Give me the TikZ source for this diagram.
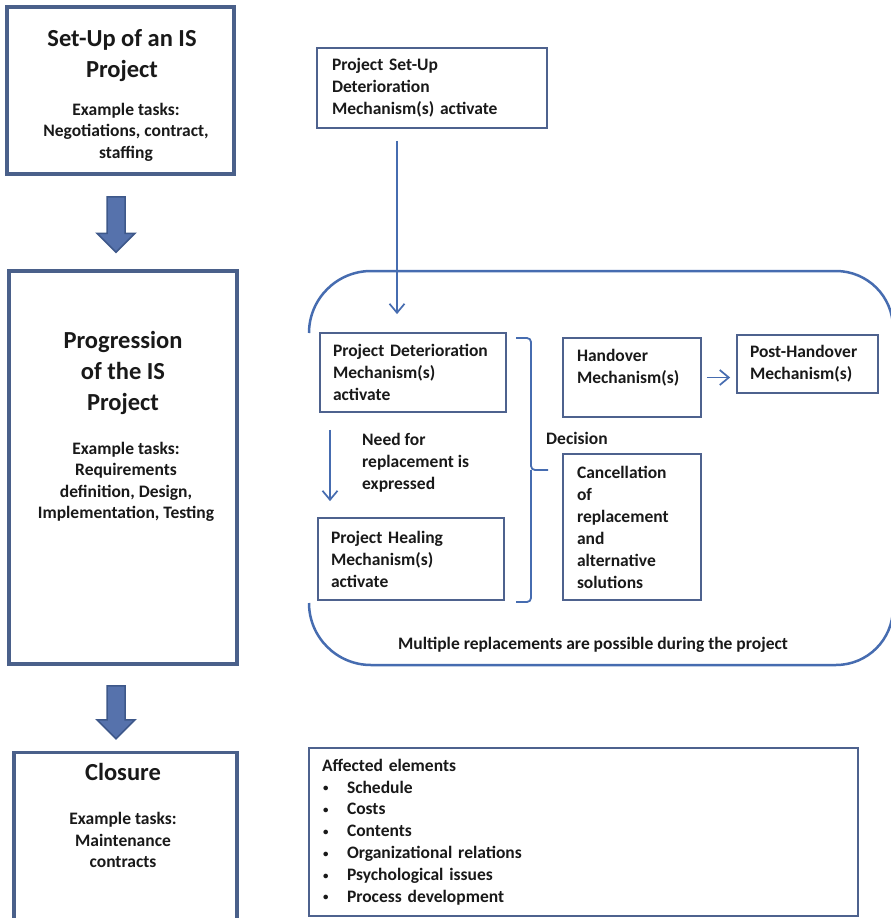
\documentclass[tikz,border=0pt]{standalone}
\usepackage{fontspec}
\setmainfont{Carlito}
\usetikzlibrary{arrows.meta,calc}

\definecolor{frameblue}{RGB}{74,96,138}
\definecolor{lineblue}{RGB}{70,108,176}
\definecolor{boxline}{RGB}{78,98,142}
\definecolor{fatfill}{RGB}{86,114,172}
\definecolor{fatdraw}{RGB}{62,88,138}
\definecolor{ink}{RGB}{25,25,25}

% block arrow from top centre #1 to tip #2
\newcommand\blockarrow[2]{%
  \draw[fatarrow] ($(#1)+(-9,0)$) -- ($(#1)+(9,0)$) -- ($(#2)+(9,-19)$)
    -- ($(#2)+(19,-19)$) -- (#2) -- ($(#2)+(-19,-19)$) -- ($(#2)+(-9,-19)$) -- cycle;}

\begin{document}
\begin{tikzpicture}[x=1pt,y=-1pt,
  bigbox/.style={draw=frameblue, line width=3.5pt, fill=white, inner sep=0pt},
  titletext/.style={font=\fontsize{24.5}{31}\selectfont\bfseries, align=center, text=ink, inner sep=0pt},
  subtext/.style={font=\fontsize{17.5}{21.5}\selectfont\bfseries, align=center, text=ink, inner sep=0pt},
  smallbox/.style={draw=boxline, line width=1.8pt, fill=white, align=left, inner ysep=0pt,
    inner xsep=13pt, text=ink, font=\fontsize{17.5}{22}\selectfont\bfseries},
  plaintext/.style={text=ink, inner sep=0pt, font=\fontsize{17.5}{22}\selectfont\bfseries},
  link/.style={draw=lineblue, line width=1.7pt, -{Straight Barb[length=9pt,width=15pt]}},
  region/.style={draw=lineblue, line width=2.5pt},
  brace/.style={draw=lineblue, line width=1.8pt, rounded corners=4pt},
  fatarrow/.style={fill=fatfill, draw=fatdraw, line width=1.5pt, line join=miter}]

\useasboundingbox[fill=white] (0,0) rectangle (891,918);

% ---- phase column ----
\node[bigbox, minimum width=227pt, minimum height=167pt] (b1) at (120.5,90.5) {};
\node[bigbox, minimum width=228pt, minimum height=393pt] (b2) at (123,467.5) {};
\node[bigbox, minimum width=223pt, minimum height=167pt] (b3) at (125.5,836) {};

\node[titletext] (t1) at (122,56) {Set-Up of an IS\\Project};
\node[subtext] (s1) at (126,132) {Example tasks:\\Negotiations, contract,\\staffing};

\node[titletext] (t2) at (123,373) {Progression\\of the IS\\Project};
\node[subtext] (s2) at (126,482) {Example tasks:\\Requirements\\definition, Design,\\Implementation, Testing};

\node[titletext] (t3) at (123,772) {Closure};
\node[subtext] (s3) at (123,840) {Example tasks:\\Maintenance\\contracts};

\path (b1.south) ++(-4.5,21) coordinate (a1s);
\path (a1s |- b2.north) ++(0,-17) coordinate (a1e);
\blockarrow{a1s}{a1e}
\path (b2.south) ++(-7,20) coordinate (a2s);
\path (a2s |- b3.north) ++(0,-12) coordinate (a2e);
\blockarrow{a2s}{a2e}

% ---- replacement region (its right side runs past the page edge) ----
\draw[region] (309,333) .. controls (309,298.8) and (336.8,271) .. (371,271)
  -- (836,271) .. controls (867.5,271) and (893,296.5) .. (893,328) -- (895,340);
\draw[region] (895,596) -- (893,608) .. controls (893,639.5) and (867.5,665) .. (836,665)
  -- (371,665) .. controls (336.8,665) and (309,637.2) .. (309,603);

\node[smallbox, inner xsep=15pt, minimum width=230pt, minimum height=80pt, text width=200pt]
  (setup) at (432,88) {Project Set-Up\\Deterioration\\Mechanism(s) activate};

\node[smallbox, minimum width=186pt, minimum height=79pt, text width=160pt]
  (det) at (413,372.5) {Project Deterioration\\Mechanism(s)\\activate};
\node[smallbox, minimum width=186pt, minimum height=82pt, text width=160pt]
  (heal) at (411,559) {Project Healing\\Mechanism(s)\\activate};
\node[smallbox, inner xsep=14pt, minimum width=138pt, minimum height=79pt, text width=110pt]
  (hand) at (632,377.5) {Handover\\Mechanism(s)\\\mbox{}};
\node[smallbox, inner xsep=14pt, minimum width=138pt, minimum height=146pt, text width=110pt]
  (cancel) at (632,527) {Cancellation\\of\\replacement\\and\\alternative\\solutions};
\node[smallbox, minimum width=141pt, minimum height=58pt, text width=115pt]
  (post) at (807.5,364) {Post-Handover\\Mechanism(s)};

\node[plaintext, anchor=west, align=left] (need) at (362,463) {Need for\\replacement is\\expressed};
\node[plaintext, anchor=west] (decision) at (546,438) {Decision};
\node[plaintext] (multi) at (593,645) {Multiple replacements are possible during the project};

\coordinate (ax) at (397,0);
\draw[link, shorten <=12pt, shorten >=18pt] (setup.south -| ax) -- (det.north -| ax);
\coordinate (bx) at (330,0);
\draw[link, shorten <=17pt, shorten >=16pt] (det.south -| bx) -- (heal.north -| bx);
\draw[link, shorten <=5pt, shorten >=6pt] (hand.east) -- (hand.east -| post.west);

% decision brace
\coordinate (bt) at (516,338);
\coordinate (bb) at (516,602);
\coordinate (bm) at (531,470);
\draw[brace] (bt) -| (bm) -- ++(17,0);
\draw[brace] (bb) -| (bm);

% ---- affected elements ----
\newcommand\bulletitem[1]{\makebox[25pt][l]{\hspace{1pt}\raisebox{1.2pt}{\scalebox{0.62}{\textbullet}}}#1}
\node[smallbox, minimum width=549pt, minimum height=168pt, text width=523pt,
  font=\fontsize{17.5}{21.8}\selectfont\bfseries]
  (affected) at (583.5,832) {Affected elements\\
  \bulletitem{Schedule}\\
  \bulletitem{Costs}\\
  \bulletitem{Contents}\\
  \bulletitem{Organizational relations}\\
  \bulletitem{Psychological issues}\\
  \bulletitem{Process development}};
\end{tikzpicture}
\end{document}
